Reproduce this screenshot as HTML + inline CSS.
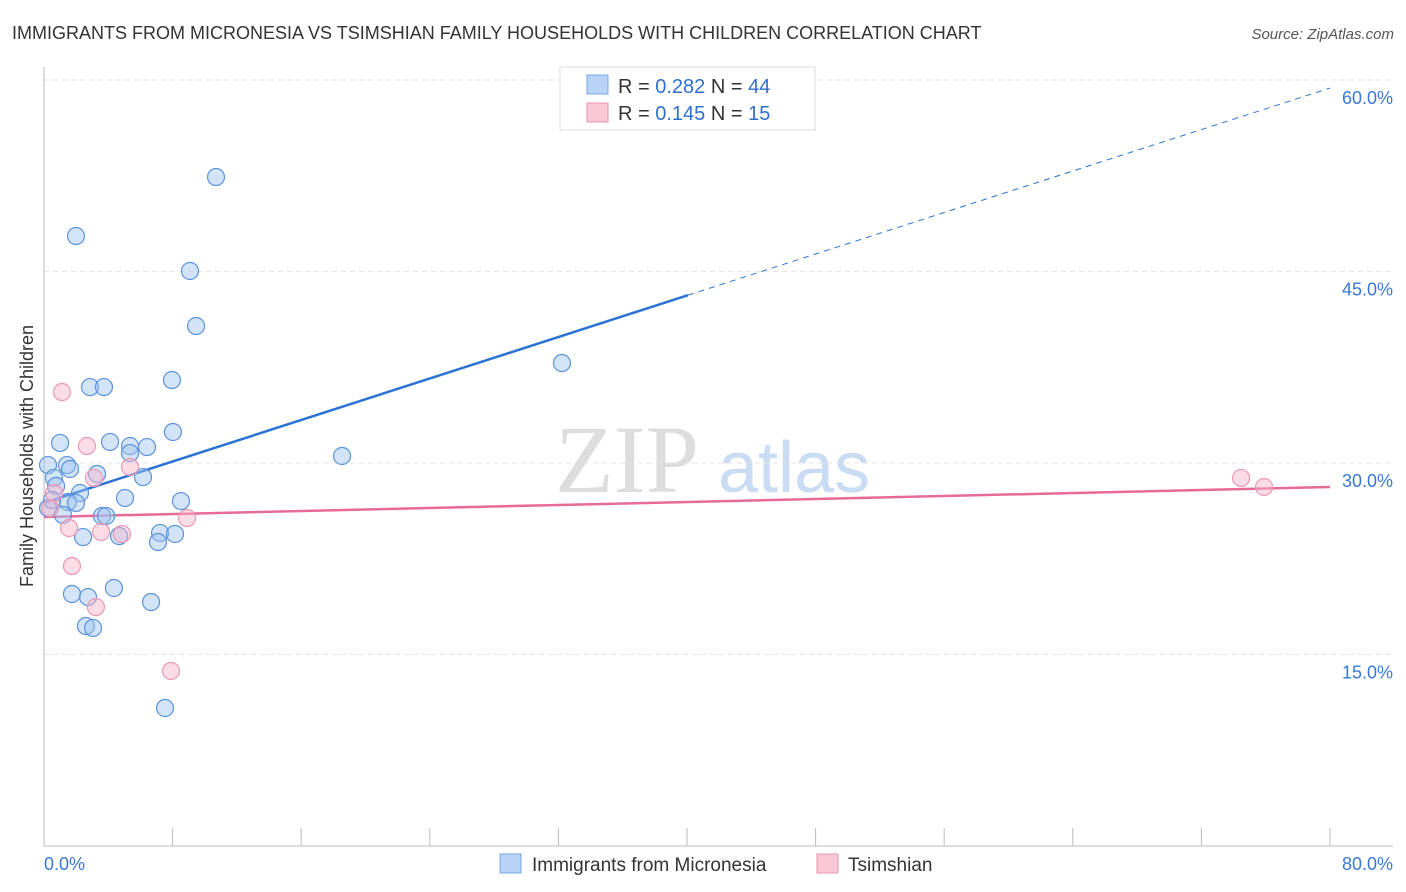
<!DOCTYPE html>
<html><head><meta charset="utf-8"><style>
body{margin:0;background:#fff;font-family:"Liberation Sans",sans-serif;}
svg{display:block}
</style></head><body>
<svg id="c" width="1406" height="892" xmlns="http://www.w3.org/2000/svg">
<text x="12" y="39" font-size="18" fill="#333">IMMIGRANTS FROM MICRONESIA VS TSIMSHIAN FAMILY HOUSEHOLDS WITH CHILDREN CORRELATION CHART</text>
<text x="1394" y="39" font-size="15" fill="#555" font-style="italic" text-anchor="end">Source: ZipAtlas.com</text>
<text x="33" y="456" font-size="18" fill="#333" text-anchor="middle" transform="rotate(-90 33 456)">Family Households with Children</text>
<text x="555" y="492" font-size="96" fill="#ddd" font-family="Liberation Serif,serif">ZIP</text>
<text x="718" y="492" font-size="72" fill="#c9dcf3">atlas</text>
<g id="grid"></g>
<g id="axes"></g>
<g id="trend"></g>
<g id="pts"></g>
<g>
<rect x="560" y="67" width="255" height="63" fill="#fff" stroke="#ddd"/>
<rect x="587" y="75" width="21" height="19" fill="#b8d3f5" stroke="#7aa7e4"/>
<text x="618" y="93" font-size="20" fill="#333">R = <tspan fill="#2f6fd0">0.282</tspan>   N = <tspan fill="#2f6fd0">44</tspan></text>
<rect x="587" y="103" width="21" height="19" fill="#f9c7d6" stroke="#e995b0"/>
<text x="618" y="120" font-size="20" fill="#333">R =  <tspan fill="#2f6fd0">0.145</tspan>   N =  <tspan fill="#2f6fd0">15</tspan></text>
</g>
<g>
<rect x="500" y="854" width="21" height="19" fill="#b8d3f5" stroke="#7aa7e4"/>
<text x="532" y="871" font-size="19" fill="#333">Immigrants from Micronesia</text>
<rect x="817" y="854" width="21" height="19" fill="#f9c7d6" stroke="#e995b0"/>
<text x="848" y="871" font-size="19" fill="#333">Tsimshian</text>
</g>
</svg>
<script>
const yTicks=[15,30,45,60];
const yTickLabels=["15.0%","30.0%","45.0%","60.0%"];
const xEndLabels=["0.0%","80.0%"];
const blueX=[10.70,1.99,9.08,9.46,32.22,7.96,2.86,3.73,8.02,1.00,4.11,5.35,6.41,5.35,18.54,0.25,1.43,1.62,3.30,6.16,0.62,0.75,2.24,5.04,8.52,1.49,1.99,1.18,3.61,3.86,2.43,4.67,7.22,8.15,7.09,4.35,1.74,2.74,6.66,2.61,3.05,7.53,0.25,0.50];
const blueY=[52.40,47.78,45.04,40.73,37.83,36.50,35.95,35.95,32.43,31.57,31.65,31.33,31.25,30.78,30.55,29.84,29.84,29.53,29.14,28.90,28.83,28.20,27.65,27.26,27.02,26.95,26.87,25.93,25.85,25.85,24.20,24.28,24.52,24.44,23.81,20.21,19.74,19.50,19.11,17.23,17.08,10.81,26.47,27.10];
const pinkX=[1.12,2.67,5.35,3.11,0.62,0.37,1.56,8.90,3.55,4.85,1.74,3.23,7.90,74.47,75.90];
const pinkY=[35.56,31.33,29.69,28.83,27.65,26.47,24.91,25.69,24.60,24.44,21.93,18.72,13.71,28.83,28.12];
const blueTrend=[26.87,59.37];
const blueSolidEnd=40.06;
const pinkTrend=[25.77,28.12];
const NS="http://www.w3.org/2000/svg";
const X=v=>44+v/80*1286, Y=v=>846-v/60*766;
function mk(t,a,p){const e=document.createElementNS(NS,t);for(const k in a)e.setAttribute(k,a[k]);p.appendChild(e);return e;}
const g=document.getElementById('grid'),ax=document.getElementById('axes'),tr=document.getElementById('trend'),pts=document.getElementById('pts');
yTicks.forEach((t,i)=>{
 const l=mk('line',{x1:44,x2:1393,y1:Y(t),y2:Y(t),stroke:'#e4e4e4','stroke-dasharray':'5,4'},g);
 
 
 const tx=mk('text',{x:1393,y:Y(t)+24,'font-size':18,fill:'#3a78d4','text-anchor':'end'},g);
 tx.textContent=yTickLabels[i];
 
 
});
const a1=mk('line',{x1:44,x2:44,y1:67,y2:846,stroke:'#bbb'},ax);


const a2=mk('line',{x1:44,x2:1393,y1:846,y2:846,stroke:'#bbb'},ax);


for(let i=1;i<=10;i++){const t=mk('line',{x1:X(i*8),x2:X(i*8),y1:828,y2:846,stroke:'#bbb'},ax);
 
 }
[[0,'start',44],[80,'end',1393]].forEach((d,i)=>{const t=mk('text',{x:d[2],y:870,'font-size':18,fill:'#3a78d4','text-anchor':d[1]},ax);t.textContent=xEndLabels[i];
 
 });
const by=x=>blueTrend[0]+(blueTrend[1]-blueTrend[0])*x/80;
let l=mk('line',{x1:X(0),y1:Y(by(0)),x2:X(blueSolidEnd),y2:Y(by(blueSolidEnd)),stroke:'#2a72d4','stroke-width':2.5},tr);


l=mk('line',{x1:X(blueSolidEnd),y1:Y(by(blueSolidEnd)),x2:X(80),y2:Y(by(80)),stroke:'#2a72d4','stroke-width':1,'stroke-dasharray':'6,5'},tr);


l=mk('line',{x1:X(0),y1:Y(pinkTrend[0]),x2:X(80),y2:Y(pinkTrend[1]),stroke:'#e76b97','stroke-width':2.5},tr);


blueX.forEach((x,i)=>{const c=mk('circle',{cx:X(x),cy:Y(blueY[i]),r:8.5,fill:'rgba(160,196,240,0.45)',stroke:'#5b93de','stroke-width':1.2},pts);
 
 });
pinkX.forEach((x,i)=>{const c=mk('circle',{cx:X(x),cy:Y(pinkY[i]),r:8.5,fill:'rgba(248,180,200,0.45)',stroke:'#eb98b4','stroke-width':1.2},pts);
 
 });
</script>
</body></html>
